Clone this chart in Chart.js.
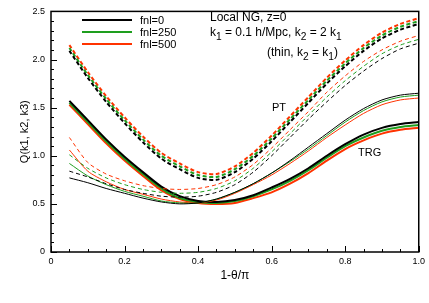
<!DOCTYPE html>
<html>
<head>
<meta charset="utf-8">
<script src="https://cdn.jsdelivr.net/npm/chart.js@4.4.1/dist/chart.umd.min.js"></script>
<style>
html,body{margin:0;padding:0;background:#fff;}
canvas{display:block;}
</style>
</head>
<body>
<canvas id="c" width="429" height="303"></canvas>
<script>
// x values (1-theta/pi)
const xs = [0.05,0.10,0.15,0.20,0.25,0.30,0.35,0.40,0.45,0.50,0.55,0.60,0.65,0.70,0.75,0.80,0.85,0.90,0.95,1.00];
const xTicks = [0,0.2,0.4,0.6,0.8,1];
const yTicks = [0,0.5,1,1.5,2,2.5];
const legendLabels = ['fnl=0','fnl=250','fnl=500'];
const colors = ['#000000','#1e9e1e','#ff3300'];

// PT, k2 = 2 k1 (thick dashed)
const ptThick0   = [2.09,1.81,1.56,1.34,1.14,0.97,0.86,0.77,0.75,0.83,0.97,1.15,1.35,1.55,1.75,1.93,2.09,2.22,2.31,2.37];
const ptThick250 = [2.12,1.84,1.59,1.37,1.17,1.00,0.89,0.80,0.78,0.86,1.00,1.18,1.38,1.58,1.78,1.96,2.12,2.25,2.34,2.40];
const ptThick500 = [2.15,1.87,1.62,1.40,1.20,1.03,0.92,0.83,0.81,0.89,1.03,1.21,1.41,1.61,1.81,1.99,2.15,2.28,2.37,2.43];
// PT, thin k2 = k1 (thin dashed)
const ptThin0   = [0.84,0.78,0.71,0.65,0.61,0.58,0.57,0.58,0.62,0.70,0.83,1.00,1.19,1.38,1.56,1.73,1.88,2.01,2.11,2.17];
const ptThin250 = [1.01,0.87,0.77,0.70,0.65,0.62,0.61,0.62,0.66,0.74,0.87,1.04,1.23,1.42,1.61,1.78,1.93,2.06,2.15,2.21];
const ptThin500 = [1.19,0.93,0.81,0.74,0.69,0.66,0.65,0.66,0.70,0.78,0.91,1.08,1.27,1.46,1.66,1.83,1.98,2.10,2.19,2.25];
// TRG, k2 = 2 k1 (thick solid)
const trgThick0   = [1.57,1.37,1.17,0.99,0.83,0.68,0.58,0.53,0.52,0.54,0.59,0.67,0.76,0.87,1.00,1.12,1.22,1.29,1.33,1.35];
const trgThick250 = [1.55,1.35,1.15,0.97,0.81,0.66,0.56,0.52,0.51,0.53,0.58,0.65,0.74,0.85,0.98,1.10,1.19,1.26,1.30,1.32];
const trgThick500 = [1.53,1.33,1.13,0.95,0.79,0.64,0.55,0.51,0.50,0.51,0.56,0.62,0.71,0.82,0.95,1.07,1.16,1.23,1.27,1.29];
// TRG, thin k2 = k1 (thin solid)
const trgThin0   = [0.77,0.72,0.66,0.61,0.56,0.52,0.50,0.51,0.55,0.62,0.71,0.82,0.95,1.09,1.23,1.37,1.49,1.58,1.63,1.65];
const trgThin250 = [0.92,0.79,0.70,0.63,0.58,0.53,0.51,0.51,0.55,0.62,0.71,0.82,0.94,1.07,1.21,1.35,1.47,1.56,1.61,1.63];
const trgThin500 = [1.06,0.84,0.73,0.65,0.60,0.55,0.52,0.51,0.54,0.61,0.70,0.80,0.92,1.05,1.19,1.32,1.44,1.53,1.58,1.60];

const FONT = '"Liberation Sans", Arial, Helvetica, sans-serif';

function ds(arr, ci, width, dash){
  return {
    data: xs.map((x,i)=>({x:x,y:arr[i]})),
    borderColor: colors[ci],
    borderWidth: width,
    borderDash: dash,
    pointRadius: 0,
    fill: false,
    tension: 0.25
  };
}

const datasets = [
  ds(ptThin0,0,1,[4,3]), ds(ptThin250,1,1,[4,3]), ds(ptThin500,2,1,[4,3]),
  ds(trgThin0,0,1,[]), ds(trgThin250,1,1,[]), ds(trgThin500,2,1,[]),
  ds(ptThick0,0,2,[4,2.5]), ds(ptThick250,1,2,[4,2.5]), ds(ptThick500,2,2,[4,2.5]),
  ds(trgThick0,0,2,[]), ds(trgThick250,1,2,[]), ds(trgThick500,2,2,[])
];

function drawSub(ctx, parts, x, y, size){
  let cx = x;
  for (const [t, sub] of parts){
    if (sub){
      ctx.font = (size*0.85) + 'px ' + FONT;
      ctx.fillText(t, cx, y + size*0.35);
    } else {
      ctx.font = size + 'px ' + FONT;
      ctx.fillText(t, cx, y);
    }
    cx += ctx.measureText(t).width;
  }
}

const deco = {
  id: 'deco',
  afterDraw(chart){
    const ctx = chart.ctx;
    const a = chart.chartArea;
    const xs_ = chart.scales.x, ys_ = chart.scales.y;
    ctx.save();
    ctx.strokeStyle = '#000';
    ctx.lineWidth = 1;
    ctx.beginPath();
    for (let v = 0; v <= 1.0001; v += 0.05){
      const px = Math.round(xs_.getPixelForValue(v)) + 0.5;
      const major = Math.abs(v/0.2 - Math.round(v/0.2)) < 1e-6;
      const len = major ? 6 : 3;
      ctx.moveTo(px, a.bottom); ctx.lineTo(px, a.bottom - len);
    }
    for (let v = 0; v <= 2.5001; v += 0.1){
      const py = Math.round(ys_.getPixelForValue(v)) + 0.5;
      const major = Math.abs(v/0.5 - Math.round(v/0.5)) < 1e-6;
      const len = major ? 6 : 3;
      ctx.moveTo(a.left, py); ctx.lineTo(a.left + len, py);
    }
    ctx.stroke();
    ctx.lineWidth = 1.5;
    ctx.strokeRect(a.left, a.top, a.right - a.left, a.bottom - a.top);

    // legend
    ctx.textBaseline = 'middle';
    ctx.textAlign = 'left';
    const ly = [20, 32, 44];
    for (let i = 0; i < 3; i++){
      ctx.strokeStyle = colors[i];
      ctx.lineWidth = 2;
      ctx.beginPath();
      ctx.moveTo(82, ly[i]); ctx.lineTo(132, ly[i]);
      ctx.stroke();
      ctx.font = '11px ' + FONT;
      ctx.fillStyle = '#000';
      ctx.fillText(legendLabels[i], 140, ly[i] + 0.5);
    }
    // annotations
    ctx.fillStyle = '#000';
    ctx.font = '12px ' + FONT;
    drawSub(ctx, [['Local NG, z=0',0]], 210, 18, 12);
    drawSub(ctx, [['k',0],['1',1],[' = 0.1 h/Mpc, k',0],['2',1],[' = 2 k',0],['1',1]], 210, 33, 12);
    drawSub(ctx, [['(thin, k',0],['2',1],[' = k',0],['1',1],[')',0]], 267, 53, 12);
    ctx.font = '11px ' + FONT;
    ctx.fillText('PT', 272, 108);
    ctx.fillText('TRG', 358, 153);

    // axis titles
    ctx.textAlign = 'center';
    ctx.font = '12px ' + FONT;
    ctx.fillText('1-\u03b8/\u03c0', (a.left + a.right)/2, 276);
    ctx.save();
    ctx.translate(25, (a.top + a.bottom)/2);
    ctx.rotate(-Math.PI/2);
    ctx.font = '11px ' + FONT;
    ctx.fillText('Q(k1, k2, k3)', 0, 0);
    ctx.restore();
    ctx.restore();
  }
};

new Chart(document.getElementById('c'), {
  type: 'line',
  data: { datasets: datasets },
  options: {
    responsive: false,
    animation: false,
    devicePixelRatio: 1,
    layout: { padding: { left: 0, right: 8, top: 7, bottom: 0 } },
    plugins: { legend: { display: false }, tooltip: { enabled: false } },
    scales: {
      x: {
        type: 'linear', min: 0, max: 1,
        afterBuildTicks(s){ s.ticks = xTicks.map(v=>({value:v})); },
        afterFit(s){ s.height = 51; },
        grid: { display: false, drawTicks: false },
        border: { display: false },
        ticks: { color: '#000', font: { size: 9, family: FONT }, padding: 4, maxRotation: 0, autoSkip: false }
      },
      y: {
        type: 'linear', min: 0, max: 2.5,
        afterBuildTicks(s){ s.ticks = yTicks.map(v=>({value:v})); },
        afterFit(s){ s.width = 51; },
        grid: { display: false, drawTicks: false },
        border: { display: false },
        ticks: { color: '#000', font: { size: 9, family: FONT }, padding: 6, autoSkip: false }
      }
    }
  },
  plugins: [deco]
});
</script>
</body>
</html>
